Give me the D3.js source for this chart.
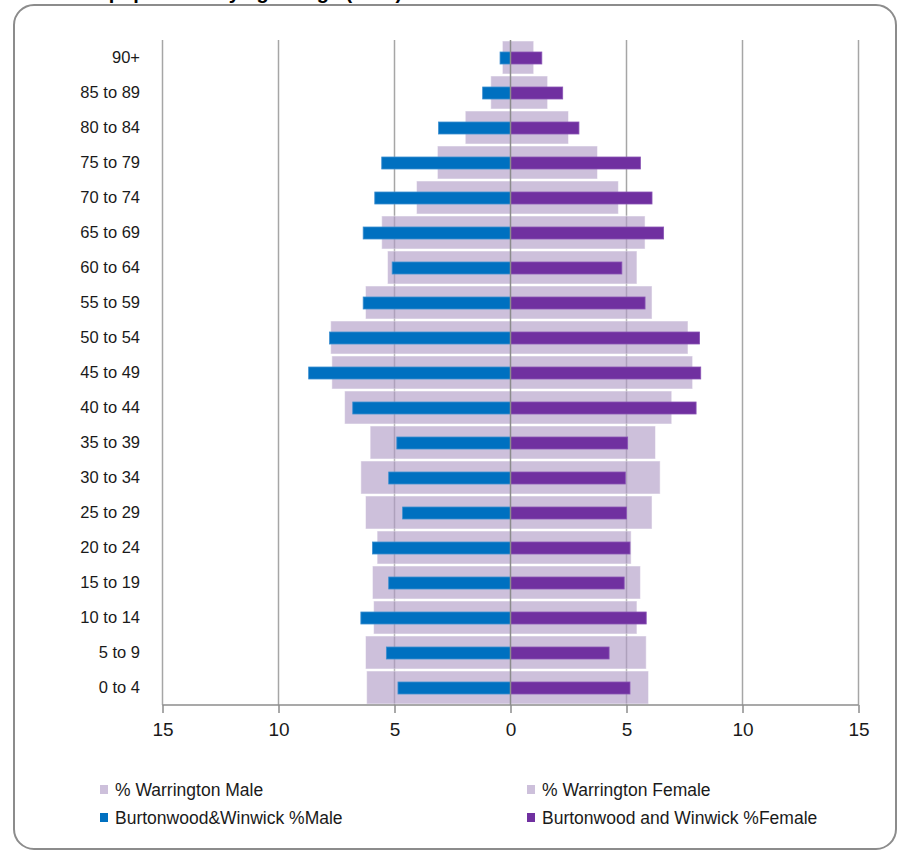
<!DOCTYPE html>
<html><head><meta charset="utf-8">
<script src="https://cdn.jsdelivr.net/npm/d3@7"></script>
<style>body{margin:0;background:#fff;} svg{display:block;}</style>
</head><body>
<svg id="c" width="897" height="852"></svg>
<script>
const categories = ["90+","85 to 89","80 to 84","75 to 79","70 to 74","65 to 69","60 to 64","55 to 59","50 to 54","45 to 49","40 to 44","35 to 39","30 to 34","25 to 29","20 to 24","15 to 19","10 to 14","5 to 9","0 to 4"];
const warringtonMale   = [0.35,0.85,1.95,3.15,4.05,5.55,5.3,6.25,7.75,7.7,7.15,6.05,6.45,6.25,5.75,5.95,5.9,6.25,6.2];
const warringtonFemale = [1.0,1.6,2.5,3.75,4.65,5.8,5.45,6.1,7.65,7.85,6.95,6.25,6.45,6.1,5.2,5.6,5.45,5.85,5.95];
const bwMale   = [0.45,1.2,3.1,5.55,5.85,6.35,5.1,6.35,7.8,8.7,6.8,4.9,5.25,4.65,5.95,5.25,6.45,5.35,4.85];
const bwFemale = [1.35,2.25,2.95,5.6,6.1,6.6,4.8,5.8,8.15,8.2,8.0,5.05,4.95,5.0,5.15,4.9,5.85,4.25,5.15];
const xTicks = [-15,-10,-5,0,5,10,15];
const legendLabels = ["% Warrington Male","% Warrington Female","Burtonwood&Winwick %Male","Burtonwood and Winwick %Female"];
const titleText = "Total population by age range (2011)";

const lavender = "rgb(178,158,200)", blue = "#0070C0", purple = "#7030A0";
const svg = d3.select("#c");

// frame
svg.append("rect").attr("x",14).attr("y",5).attr("width",882).attr("height",844)
  .attr("rx",20).attr("fill","#fff").attr("stroke","#8c8c8c").attr("stroke-width",2);
svg.append("text").attr("x",57).attr("y",-1).attr("font-family","Liberation Sans, Arial, sans-serif")
  .attr("font-weight","bold").attr("font-size",20).attr("fill","#000").text(titleText);

const x = d3.scaleLinear().domain([-15,15]).range([162.5,858.5]);
const y = d3.scaleBand().domain(categories).range([40,705]).paddingInner(0);

// gridlines
svg.append("g").selectAll("line").data(xTicks.filter(d=>d!==0)).join("line")
  .attr("x1",d=>x(d)).attr("x2",d=>x(d)).attr("y1",40).attr("y2",705)
  .attr("stroke","#a6a6a6").attr("stroke-width",1.5);

// Warrington bars (semi-transparent)
const wg = svg.append("g").attr("fill",lavender).attr("fill-opacity",0.65)
  .attr("stroke","#fff").attr("stroke-opacity",0.5).attr("stroke-width",1);
wg.selectAll("rect.wm").data(categories).join("rect").attr("class","wm")
  .attr("x",(d,i)=>x(-warringtonMale[i])).attr("width",(d,i)=>x(0)-x(-warringtonMale[i]))
  .attr("y",d=>y(d)+1).attr("height",y.bandwidth()-2);
wg.selectAll("rect.wf").data(categories).join("rect").attr("class","wf")
  .attr("x",x(0)).attr("width",(d,i)=>x(warringtonFemale[i])-x(0))
  .attr("y",d=>y(d)+1).attr("height",y.bandwidth()-2);

// Burtonwood bars
const bh = 12;
svg.append("g").selectAll("rect").data(categories).join("rect")
  .attr("x",(d,i)=>x(-bwMale[i])).attr("width",(d,i)=>x(0)-x(-bwMale[i]))
  .attr("y",d=>y(d)+y.bandwidth()/2-bh/2+0.5).attr("height",bh)
  .attr("fill",blue).attr("stroke","#3d8fd0").attr("stroke-width",0.8);
svg.append("g").selectAll("rect").data(categories).join("rect")
  .attr("x",x(0)).attr("width",(d,i)=>x(bwFemale[i])-x(0))
  .attr("y",d=>y(d)+y.bandwidth()/2-bh/2+0.5).attr("height",bh)
  .attr("fill",purple).attr("stroke","#8a55b5").attr("stroke-width",0.8);

// zero line
svg.append("line").attr("x1",x(0)).attr("x2",x(0)).attr("y1",40).attr("y2",705)
  .attr("stroke","#8c8c8c").attr("stroke-width",1.5);

// x axis
const xAxis = d3.axisBottom(x).tickValues(xTicks).tickSize(8).tickPadding(10)
  .tickFormat(d=>Math.abs(d));
const gx = svg.append("g").attr("transform","translate(0,705)").call(xAxis);
gx.select(".domain").attr("stroke","#8c8c8c").attr("stroke-width",1.5).attr("d","M162.5,0H858.5");
gx.selectAll(".tick line").attr("stroke","#8c8c8c").attr("stroke-width",1.5);
gx.selectAll("text").attr("font-family","Liberation Sans, Arial, sans-serif").attr("font-size",19).attr("fill","#1a1a1a");

// y axis labels
const yAxis = d3.axisLeft(y).tickSize(0).tickPadding(0);
const gy = svg.append("g").attr("transform","translate(140,0)").call(yAxis);
gy.select(".domain").remove();
gy.selectAll("text").attr("font-family","Liberation Sans, Arial, sans-serif").attr("font-size",16.5).attr("fill","#1a1a1a");

// legend
const legendColors = [lavender, lavender, blue, purple];
const legendPos = [[100,790],[527,790],[100,818],[527,818]];
const lg = svg.append("g");
legendLabels.forEach((t,i)=>{
  const [lx,ly] = legendPos[i];
  lg.append("rect").attr("x",lx).attr("y",ly-5).attr("width",8).attr("height",9)
    .attr("fill",legendColors[i]).attr("fill-opacity",i<2?0.65:1);
  lg.append("text").attr("x",lx+15).attr("y",ly).attr("dy","0.35em")
    .attr("font-family","Liberation Sans, Arial, sans-serif")
    .attr("font-size",17.5).attr("fill","#1a1a1a").text(t);
});
</script>
</body></html>
